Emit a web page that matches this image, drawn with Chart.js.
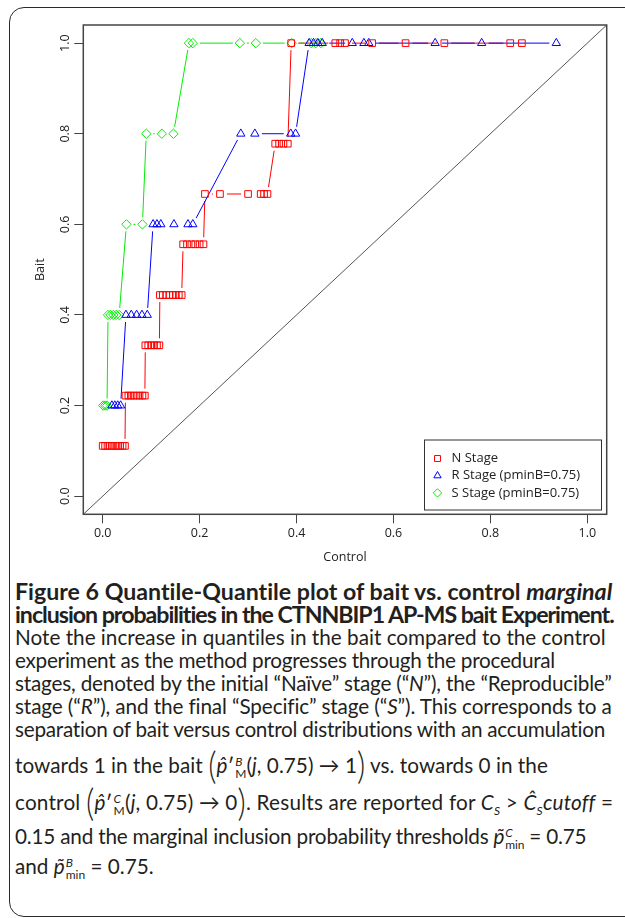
<!DOCTYPE html>
<html>
<head>
<meta charset="utf-8">
<script src="https://cdn.jsdelivr.net/npm/chart.js@4"></script>
<style>
  html, body { margin: 0; padding: 0; background: #fff; }
  body { width: 625px; height: 918px; position: relative; overflow: hidden; font-family: Lato, 'Open Sans', sans-serif; color: #231f20; }
  #frame { position: absolute; left: 9px; top: 7px; width: 660px; height: 908px; border: 1.5px solid #2a2a2a; border-radius: 15px; }
  #plot { position: absolute; left: 0; top: 0; width: 625px; height: 575px; }
  .ln { position: absolute; left: 15px; height: 23px; line-height: 23px; font-size: 18.5px; white-space: nowrap; }
  .b { font-weight: 700; font-size: 19px; }
  .paren { font-size: 32px; display: inline-block; transform: scaleY(1.15); vertical-align: -4px; font-weight: 300; }
  .ss { display: inline-block; vertical-align: middle; line-height: 12px; font-size: 12px; text-align: left; margin-left: 1px; }
  .ss span { display: block; }
  sub { font-size: 12px; }
</style>
</head>
<body>
<div id="frame"></div>
<div id="plot"><canvas id="chart"></canvas></div>

<div class="ln b" data-w="613" style="top:580px">Figure 6 Quantile-Quantile plot of bait vs. control <i>marginal</i></div>
<div class="ln b" data-w="614" style="top:603px">inclusion probabilities in the CTNNBIP1 AP-MS bait Experiment.</div>
<div class="ln" id="ref" data-w="606" style="top:626px">Note the increase in quantiles in the bait compared to the control</div>
<div class="ln" data-w="555" style="top:649px">experiment as the method progresses through the procedural</div>
<div class="ln" data-w="612" style="top:672px">stages, denoted by the initial “Naïve” stage (“<i>N</i>”), the “Reproducible”</div>
<div class="ln" data-w="611" style="top:695px">stage (“<i>R</i>”), and the final “Specific” stage (“<i>S</i>”). This corresponds to a</div>
<div class="ln" data-w="606" style="top:718px">separation of bait versus control distributions with an accumulation</div>
<div class="ln" data-w="548" style="top:753px">towards 1 in the bait <span class="paren">(</span><i>p̂</i>′<span class="ss"><span><i>B</i></span><span>M</span></span>(<i>j</i>, 0.75) → 1<span class="paren">)</span> vs. towards 0 in the</div>
<div class="ln" data-w="613" style="top:790px">control <span class="paren">(</span><i>p̂</i>′<span class="ss"><span><i>C</i></span><span>M</span></span>(<i>j</i>, 0.75) → 0<span class="paren">)</span>. Results are reported for <i>C</i><sub><i>S</i></sub> &gt; <i>Ĉ</i><sub><i>S</i></sub><i>cutoff</i> =</div>
<div class="ln" data-w="586" style="top:825px">0.15 and the marginal inclusion probability thresholds <i>p̃</i><span class="ss"><span><i>C</i></span><span>min</span></span> = 0.75</div>
<div class="ln" style="top:855px">and <i>p̃</i><span class="ss"><span><i>B</i></span><span>min</span></span> = 0.75.</div>

<script>
// control quantiles (x) / bait quantiles (y), one pair of arrays per stage
const nControl = [0.000, 0.005, 0.010, 0.015, 0.020, 0.026, 0.031, 0.036, 0.041, 0.046,
                  0.047, 0.053, 0.058, 0.064, 0.070, 0.076, 0.082, 0.087,
                  0.088, 0.094, 0.100, 0.106, 0.112, 0.117,
                  0.118, 0.124, 0.131, 0.138, 0.145, 0.151, 0.157, 0.163,
                  0.166, 0.174, 0.183, 0.191, 0.200, 0.208,
                  0.211, 0.242, 0.300, 0.326, 0.333, 0.340,
                  0.356, 0.364, 0.373, 0.382,
                  0.389, 0.480, 0.490, 0.500, 0.556, 0.625, 0.705, 0.841, 0.865];
const nBait    = [0.111, 0.111, 0.111, 0.111, 0.111, 0.111, 0.111, 0.111, 0.111, 0.111,
                  0.222, 0.222, 0.222, 0.222, 0.222, 0.222, 0.222, 0.222,
                  0.333, 0.333, 0.333, 0.333, 0.333, 0.333,
                  0.444, 0.444, 0.444, 0.444, 0.444, 0.444, 0.444, 0.444,
                  0.556, 0.556, 0.556, 0.556, 0.556, 0.556,
                  0.667, 0.667, 0.667, 0.667, 0.667, 0.667,
                  0.778, 0.778, 0.778, 0.778,
                  1.0, 1.0, 1.0, 1.0, 1.0, 1.0, 1.0, 1.0, 1.0];

const rControl = [0.019, 0.025, 0.031, 0.037,
                  0.048, 0.059, 0.070, 0.081, 0.092,
                  0.104, 0.112, 0.120, 0.147, 0.176, 0.186,
                  0.285, 0.314, 0.388, 0.398,
                  0.426, 0.435, 0.444, 0.453, 0.515, 0.539, 0.549, 0.686, 0.782, 0.936];
const rBait    = [0.2, 0.2, 0.2, 0.2,
                  0.4, 0.4, 0.4, 0.4, 0.4,
                  0.6, 0.6, 0.6, 0.6, 0.6, 0.6,
                  0.8, 0.8, 0.8, 0.8,
                  1.0, 1.0, 1.0, 1.0, 1.0, 1.0, 1.0, 1.0, 1.0, 1.0];

const sControl = [0.001, 0.005, 0.009,
                  0.011, 0.016, 0.022, 0.028, 0.034,
                  0.049, 0.082,
                  0.090, 0.122, 0.146,
                  0.178, 0.186, 0.283, 0.316, 0.390, 0.430, 0.440, 0.450];
const sBait    = [0.2, 0.2, 0.2,
                  0.4, 0.4, 0.4, 0.4, 0.4,
                  0.6, 0.6,
                  0.8, 0.8, 0.8,
                  1.0, 1.0, 1.0, 1.0, 1.0, 1.0, 1.0, 1.0];

const stageLabels = ['N Stage', 'R Stage (pminB=0.75)', 'S Stage (pminB=0.75)'];
const axisTicks   = [0.0, 0.2, 0.4, 0.6, 0.8, 1.0];
const identityLine = [-0.04, 1.04];

const toPts = (xs, ys) => xs.map((x, i) => ({ x, y: ys[i] }));

// caption: pick font sizes so the plain and bold lines are as wide as in the print,
// then a small per-line letter-spacing for what is left over
const capLines = [...document.querySelectorAll('.ln')];
const fitSize = (el, base) => base * (+el.dataset.w - 15) / el.getBoundingClientRect().width;
const boldSize  = fitSize(capLines[0], 19);
const plainSize = fitSize(document.getElementById('ref'), 18.5);
capLines.forEach(el => {
  el.style.fontSize = (el.classList.contains('b') ? boldSize : plainSize).toFixed(2) + 'px';
});
capLines.forEach(el => {
  if (!el.dataset.w) return;
  const diff = (+el.dataset.w - 15) - el.getBoundingClientRect().width;
  el.style.letterSpacing = Math.max(-1.5, Math.min(0.6, diff / el.textContent.length)).toFixed(3) + 'px';
});

Chart.defaults.font.family = "'Open Sans', sans-serif";
Chart.defaults.font.size = 12.5;
Chart.defaults.color = '#222';

// R-style type="b": segments between points, leaving a gap around each marker
const gapLines = {
  id: 'gapLines',
  beforeDatasetsDraw(chart) {
    const { ctx } = chart;
    ctx.save();
    ctx.beginPath();
    ctx.rect(chart.chartArea.left, chart.chartArea.top, chart.chartArea.width, chart.chartArea.height);
    ctx.clip();
    chart.data.datasets.forEach((ds, di) => {
      if (!ds.gapLine) return;
      const pts = chart.getDatasetMeta(di).data;
      ctx.strokeStyle = ds.borderColor;
      ctx.lineWidth = 1;
      for (let i = 1; i < pts.length; i++) {
        const a = pts[i - 1], b = pts[i];
        const dx = b.x - a.x, dy = b.y - a.y;
        const len = Math.hypot(dx, dy);
        const gap = 7;
        if (len <= 2 * gap) continue;
        const ux = dx / len, uy = dy / len;
        ctx.beginPath();
        ctx.moveTo(a.x + ux * gap, a.y + uy * gap);
        ctx.lineTo(b.x - ux * gap, b.y - uy * gap);
        ctx.stroke();
      }
    });
    ctx.restore();
  }
};

// plot box + legend in the bottom right corner
const boxAndLegend = {
  id: 'boxAndLegend',
  afterDraw(chart) {
    const { ctx, chartArea: a } = chart;
    ctx.save();
    ctx.strokeStyle = '#444';
    ctx.lineWidth = 1.5;
    ctx.strokeRect(a.left, a.top, a.width, a.height);

    const lx = 424.5, ly = 440, lw = 177, lh = 70;
    ctx.fillStyle = '#fff';
    ctx.fillRect(lx, ly, lw, lh);
    ctx.strokeStyle = '#333';
    ctx.lineWidth = 1;
    ctx.strokeRect(lx, ly, lw, lh);
    ctx.font = "13px 'Open Sans', sans-serif";
    ctx.textBaseline = 'middle';
    ctx.textAlign = 'left';
    stageLabels.forEach((txt, i) => {
      const ds = chart.data.datasets[i];
      const y = ly + 18.5 + i * 17.2;
      ctx.strokeStyle = ds.borderColor;
      ctx.fillStyle = 'rgba(0,0,0,0)';
      ctx.lineWidth = 1;
      Chart.helpers.drawPoint(ctx, { pointStyle: ds.pointStyle, radius: 4.2, borderWidth: 1, rotation: 0 }, lx + 13, y);
      ctx.fillStyle = '#222';
      ctx.fillText(txt, lx + 27, y);
    });
    ctx.restore();
  }
};

const fixedTicks = scale => { scale.ticks = axisTicks.map(v => ({ value: v })); };

new Chart(document.getElementById('chart').getContext('2d'), {
  type: 'scatter',
  data: {
    datasets: [
      { label: stageLabels[0], data: toPts(nControl, nBait), pointStyle: 'rect',
        borderColor: '#ff0000', backgroundColor: 'rgba(0,0,0,0)', pointRadius: 4.7, pointBorderWidth: 1, gapLine: true },
      { label: stageLabels[1], data: toPts(rControl, rBait), pointStyle: 'triangle',
        borderColor: '#0000ff', backgroundColor: 'rgba(0,0,0,0)', pointRadius: 4.8, pointBorderWidth: 1, gapLine: true },
      { label: stageLabels[2], data: toPts(sControl, sBait), pointStyle: 'rectRot',
        borderColor: '#00ee00', backgroundColor: 'rgba(0,0,0,0)', pointRadius: 4.7, pointBorderWidth: 1, gapLine: true },
      { label: 'identity', data: toPts(identityLine, identityLine), showLine: true, pointRadius: 0,
        borderColor: '#555', borderWidth: 1 }
    ]
  },
  options: {
    responsive: true,
    maintainAspectRatio: false,
    animation: false,
    layout: { padding: { top: 25, right: 18.3, left: 0, bottom: 0 } },
    plugins: { legend: { display: false }, tooltip: { enabled: false } },
    scales: {
      x: {
        type: 'linear', min: -0.04, max: 1.04,
        afterBuildTicks: fixedTicks,
        afterFit: s => { s.height = 60.7; },
        grid: { drawOnChartArea: false, drawTicks: true, tickLength: 9, color: '#444' },
        border: { display: false },
        ticks: { padding: 3, callback: v => v.toFixed(1) },
        title: { display: true, text: 'Control', padding: { top: 0, bottom: 10 } }
      },
      y: {
        type: 'linear', min: -0.04, max: 1.04,
        afterBuildTicks: fixedTicks,
        afterFit: s => { s.width = 83.3; },
        grid: { drawOnChartArea: false, drawTicks: true, tickLength: 9, color: '#444' },
        border: { display: false },
        ticks: { padding: 0, minRotation: 90, maxRotation: 90, crossAlign: 'center', callback: v => v.toFixed(1) },
        title: { display: true, text: 'Bait', padding: { top: 33, bottom: 0 } }
      }
    }
  },
  plugins: [gapLines, boxAndLegend]
});
</script>
</body>
</html>
